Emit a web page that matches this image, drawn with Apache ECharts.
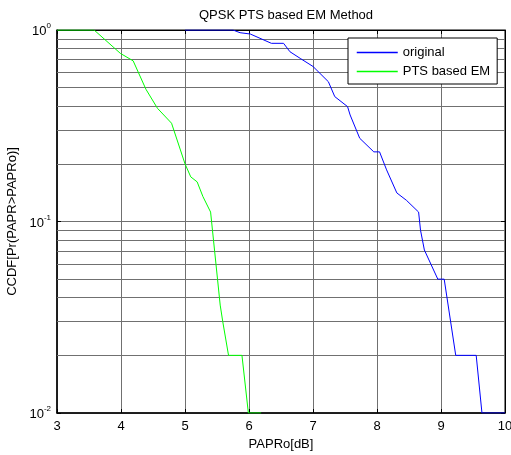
<!DOCTYPE html>
<html>
<head>
<meta charset="utf-8">
<script src="https://cdn.jsdelivr.net/npm/echarts@6/dist/echarts.min.js"></script>
<style>
  html, body { margin: 0; padding: 0; background: #fff; }
  #chart { width: 511px; height: 455px; }
</style>
</head>
<body>
<div id="chart"></div>
<script>
/* ========== QPSK PTS based EM 方法 CCDF 曲线 ========== */

// 原始信号
const origX = [5.0, 5.75, 5.86, 6.02, 6.35, 6.54, 6.64, 6.80, 7.0, 7.24, 7.34, 7.54, 7.58, 7.73,
               7.95, 8.04, 8.15, 8.31, 8.46, 8.65, 8.68, 8.74, 8.95, 9.05, 9.23, 9.55, 9.64, 10.0];
const origY = [1, 1, 0.968, 0.953, 0.852, 0.852, 0.77, 0.711, 0.645, 0.537, 0.449, 0.398, 0.36, 0.272,
               0.231, 0.231, 0.186, 0.141, 0.129, 0.112, 0.09, 0.071, 0.05, 0.05, 0.02, 0.02, 0.01, 0.01];

// PTS based EM
const ptsX = [3, 3.58, 3.99, 4.19, 4.39, 4.57, 4.79, 5.0, 5.09, 5.19, 5.28, 5.40, 5.55, 5.59, 5.68, 5.89, 5.99, 6.19];
const ptsY = [1, 1, 0.755, 0.69, 0.49, 0.39, 0.326, 0.20, 0.171, 0.161, 0.135, 0.112, 0.0366, 0.030, 0.02, 0.02, 0.01, 0.01];

// 坐标刻度
const xTicks = [3, 4, 5, 6, 7, 8, 9, 10];
const yTicks = [0.01, 0.1, 1];
const yMinorGrid = [0.02, 0.03, 0.04, 0.05, 0.06, 0.07, 0.08, 0.09,
                    0.2, 0.3, 0.4, 0.5, 0.6, 0.7, 0.8, 0.9];

const FONT = "'Liberation Sans', Arial, sans-serif";
const gridLine = { color: "#707070", width: 1, type: "solid" };

const chart = echarts.init(document.getElementById("chart"), null, { renderer: "canvas" });

const zip = (xs, ys) => xs.map((x, i) => [x, ys[i]]);

chart.setOption({
    animation: false,
    backgroundColor: "#fff",
    title: {
        text: "QPSK PTS based EM Method",
        left: 281, top: 4, textAlign: "center",
        textStyle: { fontFamily: FONT, fontSize: 13, fontWeight: "normal", color: "#000" },
    },
    legend: {
        left: 348, top: 38,
        orient: "vertical",
        backgroundColor: "#fff",
        borderColor: "#000", borderWidth: 1, borderRadius: 0,
        padding: [8, 7, 6, 8],
        itemWidth: 41, itemHeight: 14, itemGap: 6,
        itemStyle: { opacity: 0 },
        lineStyle: { width: 1.5 },
        textStyle: { fontFamily: FONT, fontSize: 13, color: "#000" },
        data: ["original", "PTS based EM"],
    },
    grid: {
        left: 57, right: 6, top: 30, bottom: 42,
        outerBoundsMode: "none", containLabel: false,
        show: true, borderColor: "#000", borderWidth: 1,
    },
    xAxis: [{
        type: "value", min: xTicks[0], max: xTicks[xTicks.length - 1], interval: 1,
        name: "PAPRo[dB]", nameLocation: "middle", nameGap: 25,
        nameTextStyle: { fontFamily: FONT, fontSize: 13, color: "#000" },
        axisLine: { lineStyle: { color: "#000", width: 1.5 } },
        axisTick: { inside: true, length: 4, lineStyle: { color: "#000" } },
        axisLabel: { margin: 7, fontFamily: FONT, fontSize: 13, color: "#000" },
        splitLine: { show: true, lineStyle: gridLine },
    }, {
        type: "value", position: "top", min: xTicks[0], max: xTicks[xTicks.length - 1], interval: 1,
        axisLine: { lineStyle: { color: "#000", width: 1 } },
        axisTick: { inside: true, length: 4, lineStyle: { color: "#000" } },
        axisLabel: { show: false },
        splitLine: { show: false },
    }],
    yAxis: [{
        type: "log", logBase: 10, min: yTicks[0], max: yTicks[yTicks.length - 1],
        name: "CCDF[Pr(PAPR>PAPRo)]", nameLocation: "middle", nameGap: 35,
        nameTextStyle: { fontFamily: FONT, fontSize: 13, color: "#000" },
        axisLine: { show: true, lineStyle: { color: "#000", width: 1.5 } },
        axisTick: { inside: true, length: 4, lineStyle: { color: "#000" } },
        axisLabel: {
            margin: 6,
            formatter: v => `{b|10}{s|${Math.round(Math.log10(v))}}`,
            rich: {
                b: { fontFamily: FONT, fontSize: 13, color: "#000", padding: [3, 0, 0, 0] },
                s: { fontFamily: FONT, fontSize: 8, color: "#000", verticalAlign: "top", padding: [0, 0, 8, 0] },
            },
        },
        splitLine: { show: true, lineStyle: gridLine },
        minorTick: { show: false },
    }, {
        type: "log", logBase: 10, position: "right", min: yTicks[0], max: yTicks[yTicks.length - 1],
        axisLine: { show: true, lineStyle: { color: "#000", width: 1 } },
        axisTick: { inside: true, length: 4, lineStyle: { color: "#000" } },
        axisLabel: { show: false },
        splitLine: { show: false },
    }],
    series: [{
        name: "original",
        type: "line",
        data: zip(origX, origY),
        symbol: "none",
        lineStyle: { color: "#0000ff", width: 1 },
        itemStyle: { color: "#0000ff" },
        z: 3,
        markLine: {
            silent: true, symbol: "none", animation: false,
            label: { show: false },
            lineStyle: gridLine,
            data: yMinorGrid.map(v => ({ yAxis: v })),
            z: 1,
        },
    }, {
        name: "PTS based EM",
        type: "line",
        data: zip(ptsX, ptsY),
        symbol: "none",
        lineStyle: { color: "#00ff00", width: 1 },
        itemStyle: { color: "#00ff00" },
        z: 4,
    }],
});
</script>
</body>
</html>
